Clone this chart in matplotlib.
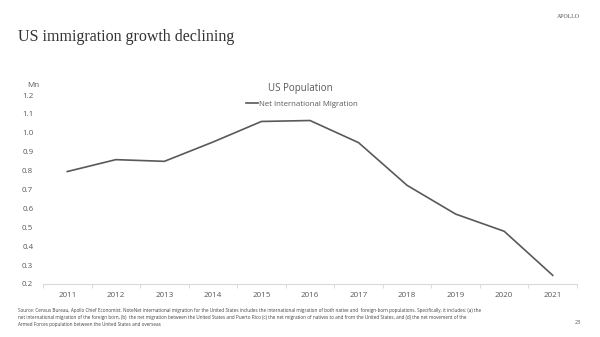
import numpy as np
import matplotlib
matplotlib.use("Agg")
import matplotlib.pyplot as plt
from matplotlib.ticker import FixedLocator, FormatStrFormatter

# 数据 (Mn)
years = ['2011', '2012', '2013', '2014', '2015', '2016', '2017', '2018', '2019', '2020', '2021']
net_migration = [0.795, 0.858, 0.849, 0.951, 1.060, 1.065, 0.948, 0.722, 0.570, 0.479, 0.246]
y_ticks = [0.2, 0.3, 0.4, 0.5, 0.6, 0.7, 0.8, 0.9, 1.0, 1.1, 1.2]

title = 'US immigration growth declining'
chart_title = 'US Population'
series_name = 'Net International Migration'
footnote = ('Source: Census Bureau, Apollo Chief Economist. NoteNet international migration for the United States includes the international migration of both native and  foreign-born populations. Specifically, it includes: (a) the\n'
            'net international migration of the foreign born, (b)  the net migration between the United States and Puerto Rico (c) the net migration of natives to and from the United States, and (d) the net movement of the\n'
            'Armed Forces population between the United States and overseas')

W, H = 600, 337
plt.rcParams['font.family'] = ['Open Sans', 'DejaVu Sans']
fig = plt.figure(figsize=(W / 100, H / 100), dpi=100)

# 坐标区
ax = fig.add_axes([43 / W, (H - 284) / H, 534 / W, 189 / H])
x = np.arange(len(years))
line, = ax.plot(x, net_migration, color='#595959', lw=1.2, solid_joinstyle='miter')

ax.set_xlim(-0.5, len(years) - 0.5)
ax.set_ylim(0.2, 1.2)
ax.set_xticks(x)
ax.set_xticklabels(years)
ax.xaxis.set_minor_locator(FixedLocator(np.arange(-0.5, len(years), 1.0)))
ax.tick_params(axis='x', which='major', length=0, pad=6, labelsize=5.8, labelcolor='#595959')
ax.tick_params(axis='x', which='minor', length=3, color='#d9d9d9', width=0.7)
ax.set_yticks(y_ticks)
ax.yaxis.set_major_formatter(FormatStrFormatter('%.1f'))
ax.tick_params(axis='y', length=0, pad=7, labelsize=5.8, labelcolor='#595959')
for s in ['left', 'right', 'top']:
    ax.spines[s].set_visible(False)
ax.spines['bottom'].set_color('#d9d9d9')
ax.spines['bottom'].set_linewidth(0.8)

# 文字
fig.text(18 / W, 1 - 37 / H, title, family='Liberation Serif', fontsize=11.5, color='#333333', va='center')
fig.text(580 / W, 1 - 16 / H, 'APOLLO', family='Liberation Serif', fontsize=4.2, color='#555555', va='center', ha='right')
fig.text(300 / W, 1 - 88 / H, chart_title, fontsize=7, color='#595959', ha='center', va='center')
fig.text(27 / W, 1 - 86 / H, 'Mn', fontsize=5.8, color='#595959', va='center')
ax.legend([line], [series_name], loc='center', bbox_to_anchor=(302 / W, 1 - 104 / H),
          bbox_transform=fig.transFigure, frameon=False, fontsize=5.6, labelcolor='#595959',
          handlelength=1.5, handletextpad=0.1, borderpad=0)
fig.text(18 / W, 1 - 308 / H, footnote, fontsize=3.3, color='#404040', va='top', linespacing=1.5)
fig.text(581 / W, 1 - 322 / H, '23', fontsize=4, color='#555555', ha='right', va='center')

fig.savefig('out.png', dpi=100)
